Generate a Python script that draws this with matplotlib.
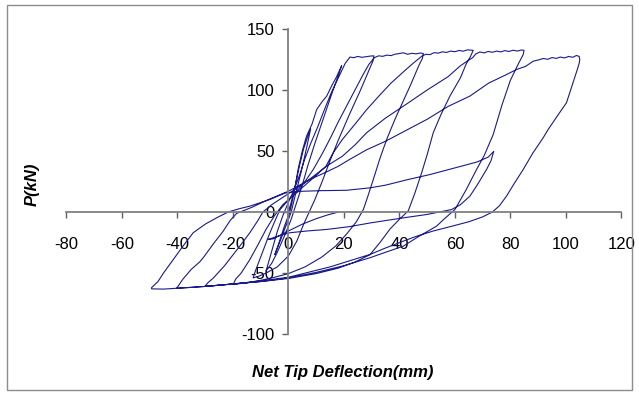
import matplotlib
matplotlib.use('Agg')
import matplotlib.pyplot as plt
from matplotlib.patches import Rectangle
import numpy as np

plt.rcParams['font.family'] = ['Liberation Sans', 'DejaVu Sans']

# ---- data: net tip deflection (mm) and load P (kN), branch by branch ----
seg01_x = [0, 1, 2.5, 4, 5.5, 7, 8, 6.5, 4.5, 2.5, 1, -1, -3, -4.9, -3.5, -1.5, 0.5]
seg01_y = [0, 8, 22, 38, 52, 62, 68, 52, 32, 14, 0, -12, -24, -35, -26, -12, 0]

seg02_x = [2, 3.5, 5, 6.5, 7.7, 8.5, 10.2, 12, 13.8, 15.5, 17.4, 19.2]
seg02_y = [15, 35, 50, 62, 68, 72, 84, 90, 95, 103, 111, 120]

seg03_x = [18, 15.5, 12.5, 9.5, 7, 5, 3, 1, -1.5, -4, -6, -8]
seg03_y = [112, 96, 76, 56, 38, 22, 8, -6, -20, -33, -42, -48]

seg04_x = [-7, -5.5, -4, -2, 0, 2, 4, 6, 8, 10.6, 13, 15.5, 18, 19.5, 20.5, 21.5, 22.2,
           23.5, 25, 26.5, 28, 29.5, 30.8]
seg04_y = [-40, -28, -16, -3, 8, 18, 30, 44, 56, 70, 84, 98, 110, 117, 122, 125, 127,
           126.5, 127.5, 126.8, 127.3, 127.8, 128]

seg05_x = [30.5, 29, 26, 22, 18, 15, 12, 9.5, 7.5, 5.5, 3, 0, -4, -8, -10.5, -12.7]
seg05_y = [124, 116, 100, 80, 59, 42, 24, 10, 0, -10, -24, -36, -45, -50, -52.5, -54]

seg06_x = [-12, -11, -9, -7, -5, -3, 0, 3, 6, 9, 12, 15, 18, 21, 24, 27, 29, 31, 32.5,
           34, 35.5, 37, 38.5, 40, 41.4, 43, 44.5, 46, 47.5, 48.6]
seg06_y = [-49, -43, -31, -19, -8, 2, 10, 17, 25, 35, 47, 60, 74, 87, 100, 113, 121,
           126.5, 128, 127.6, 128.6, 128.2, 129.4, 129.9, 130.5, 129.3, 130.1, 129.6,
           130.3, 130]

seg07_x = [48.3, 47, 44, 41, 38.4, 35.5, 33, 30.5, 28.5, 27, 24.5, 21, 17, 12, 6, 0,
           -5, -10, -15, -19.9]
seg07_y = [126, 120, 104, 89, 76, 60, 44, 26, 12, 2, -8, -18, -28, -37, -45, -50.5,
           -53.5, -56, -58, -59.4]

seg08_x = [-19, -17, -13.9, -11, -8, -5, -2, 2, 6, 10, 13.5, 16, 19.4, 24, 28.2, 33,
           37, 42, 45, 48, 49.5, 51, 52.5, 54, 55.5, 57, 58.5, 60, 61.5, 63, 64.5, 66.6]
seg08_y = [-55, -50, -39, -27, -14, -3, 6, 14, 22, 30, 37.4, 48, 59.3, 72, 83.9, 96,
           105.7, 116, 122, 127.6, 129.3, 129, 130.6, 130.2, 131.3, 130.8, 131.9, 131.4,
           132.4, 131.8, 132.9, 132.5]

seg09_x = [65.5, 64, 62, 58.2, 55, 52.2, 50, 48, 45.5, 43.2, 40, 36.6, 33, 29.4, 24,
           18, 10, 0, -10, -20, -26, -30.1]
seg09_y = [127, 121, 110, 95, 80, 65, 47, 32, 15, 1, -6, -14, -25, -35, -41, -46,
           -50.5, -54.5, -57, -59, -60.2, -61]

seg10_x = [-29, -27, -23, -19.9, -16.5, -13.9, -11, -9.2, -6, -2, 2, 6, 10, 14, 19.4,
           24, 28.2, 35, 42.9, 50, 57.6, 61.8, 64, 66.4, 67.5, 69, 70.5, 72, 73.5, 75,
           76.5, 78, 79.5, 81, 82.5, 84, 84.9]
seg10_y = [-58, -54, -44, -35, -25, -17, -7, 0, 6, 12, 18, 24, 31, 38, 45.6, 55, 65,
           77, 89, 100, 111, 119.5, 123, 126.5, 129.5, 131.2, 130.4, 131.6, 130.9,
           131.9, 131.2, 132.3, 131.6, 132.6, 131.9, 132.8, 132.5]

seg11_x = [84.6, 83, 80, 77, 73.8, 70.5, 67.8, 64, 60, 56, 53.4, 47, 41.4, 35, 29.4,
           20, 10, 0, -10, -20, -30, -35, -40.3]
seg11_y = [129, 122, 108, 88, 63.5, 46, 34.8, 18, 2, -6, -11.6, -20, -28, -33, -37.5,
           -44, -49.5, -54, -57, -59, -61, -61.8, -62.5]

seg12_x = [-39.5, -38, -35, -32, -30.7, -27, -23.5, -21, -18.7, -13, -7.4, 0, 8, 12,
           17.9, 22, 28.2, 35, 42.9, 50, 57.6, 65.4, 72.2, 78, 82.2, 85.5, 88.2, 90,
           91.8, 93.5, 95, 96.5, 98, 99.5, 101, 102.5, 103.8, 104.8, 105]
seg12_y = [-60, -55, -47, -41, -37.5, -26, -15.7, -7, -1.2, 4, 10, 17, 27, 31, 37.4,
           43, 51, 58, 67.5, 76, 86.6, 95, 105.7, 112, 116.8, 119.4, 123.6, 124.6,
           125.8, 125.2, 126.6, 125.9, 127, 126.3, 127.5, 126.8, 128.3, 127.5, 125]

seg13_x = [104.8, 104, 102, 100.2, 97, 93.6, 91.8, 88, 84.6, 81, 78.6, 76, 73.5, 70,
           65, 60, 52, 46, 41.3, 35, 29.4, 22, 15, 8, 0, -10, -20, -30, -40, -45, -49.3]
seg13_y = [122, 116, 102, 89.5, 79, 67.6, 60.8, 48, 34.8, 22, 13, 5, 0, -4, -8, -11,
           -15.7, -20, -24, -29.5, -34.8, -40, -45, -49, -53.5, -56.5, -59, -61, -62.5,
           -63.2, -63]

seg14_x = [-49.3, -47, -45, -41.5, -38, -34.3, -30, -25.9, -21.7, -18, -13.9, -6.7,
           -1.2, 5, 12, 20.9, 29.4, 35, 38.4, 42.9, 51, 57.6, 63, 68, 72, 74]
seg14_y = [-62, -57, -50, -39, -28, -17, -10, -4.8, 0, 2.5, 4.8, 10.2, 15.6, 17,
           17.5, 17.8, 19.8, 22, 23.9, 26.5, 30.7, 34.7, 38, 41, 45, 49.7]

seg15_x = [73, 71.4, 68, 65.4, 62, 58.8, 50, 41.4, 35, 29.4, 22, 13.8, 7, 0.5, -4, -7.3]
seg15_y = [42, 34.8, 22, 13, 6, 2, -2, -4.8, -7, -9, -12, -14.3, -15.5, -17, -20, -22.5]

seg16_x = [-5.5, -3, 0.5, 5, 10, 14, 17.9]
seg16_y = [-22, -19, -15, -10, -5.5, -2.5, -0.1]

x_ticks = [-80, -60, -40, -20, 0, 20, 40, 60, 80, 100, 120]
y_ticks = [-100, -50, 0, 50, 100, 150]

xs = [seg01_x, seg02_x, seg03_x, seg04_x, seg05_x, seg06_x, seg07_x, seg08_x,
      seg09_x, seg10_x, seg11_x, seg12_x, seg13_x, seg14_x, seg15_x, seg16_x]
ys = [seg01_y, seg02_y, seg03_y, seg04_y, seg05_y, seg06_y, seg07_y, seg08_y,
      seg09_y, seg10_y, seg11_y, seg12_y, seg13_y, seg14_y, seg15_y, seg16_y]
disp = np.concatenate([np.asarray(a, float) for a in xs])
load = np.concatenate([np.asarray(a, float) for a in ys])

W, H = 639, 395
fig = plt.figure(figsize=(W / 100, H / 100), dpi=100)
ax = fig.add_axes([66.4 / W, 1 - 334 / H, (621.4 - 66.4) / W, (334 - 29) / H])
ax.patch.set_alpha(0)

ax.plot(disp, load, color='#1a1a8c', lw=0.8, solid_joinstyle='round')

ax.set_xlim(-80, 120)
ax.set_ylim(-100, 150)
ax.spines['left'].set_position(('data', 0))
ax.spines['bottom'].set_position(('data', 0))
ax.spines['top'].set_visible(False)
ax.spines['right'].set_visible(False)
for s in ('left', 'bottom'):
    ax.spines[s].set_color('#808080')
    ax.spines[s].set_linewidth(1.3)
ax.set_xticks(x_ticks)
ax.set_yticks(y_ticks)
ax.set_xticklabels([str(v) for v in x_ticks])
ax.set_yticklabels([str(v) for v in y_ticks])
ax.tick_params(axis='x', direction='out', length=4, width=1, color='#606060',
               pad=14, labelsize=12)
ax.tick_params(axis='y', direction='out', length=4, width=1, color='#606060',
               pad=6, labelsize=12)

fig.text(343 / W, 1 - 372.5 / H, 'Net Tip Deflection(mm)', ha='center', va='center',
         fontsize=12, fontweight='bold', fontstyle='italic')
fig.text(32 / W, 1 - 184.5 / H, 'P(kN)', ha='center', va='center', rotation=90,
         fontsize=12, fontweight='bold', fontstyle='italic')

fig.add_artist(Rectangle((7 / W, 1 - 390 / H), 625 / W, 385 / H,
                         transform=fig.transFigure, fill=False,
                         edgecolor='#8c8c8c', lw=1.0))

fig.savefig('out.png', dpi=100)
